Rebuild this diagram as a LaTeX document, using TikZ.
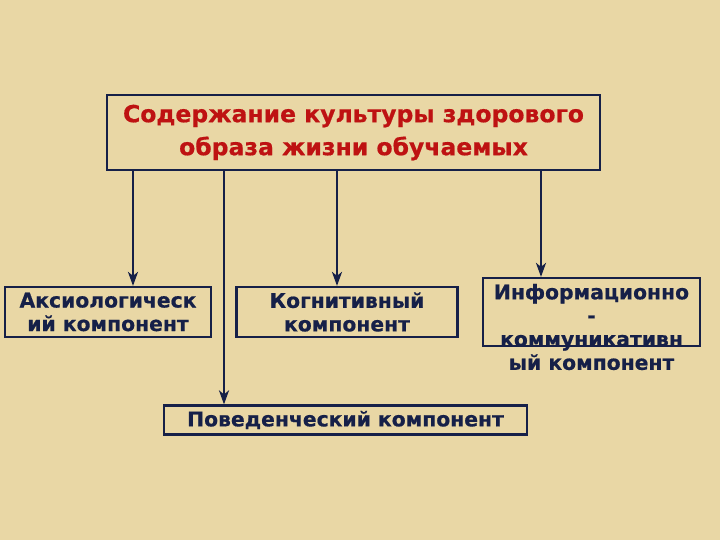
\documentclass[tikz,border=0pt]{standalone}
\usepackage{fontspec}
\setmainfont[BoldFeatures={FakeBold=0.6}]{DejaVu Sans}
\usetikzlibrary{arrows.meta}

\definecolor{paper}{RGB}{233,215,165}
\definecolor{navy}{RGB}{22,32,72}
\definecolor{titlered}{RGB}{190,18,18}

\tikzset{
  compbox/.style={draw=navy, line width=2.2pt, inner sep=0pt},
  comptext/.style={text=navy, font=\bfseries\fontsize{20.3}{23.5}\selectfont, align=center, inner sep=0pt},
  link/.style={draw=navy, line width=2.4pt, -{Stealth[length=14pt,width=10pt,inset=4pt]}}
}

\begin{document}
\begin{tikzpicture}[x=1pt,y=-1pt]
    % фон
    \fill[paper] (0,0) rectangle (720,540);
    \useasboundingbox (0,0) rectangle (720,540);

    % главный блок
    \node[compbox, minimum width=493, minimum height=75,
          text=titlered, align=center,
          font=\bfseries\fontsize{23.5}{33}\selectfont] (title) at (353.5,132.5)
        {Содержание культуры здорового\\образа жизни обучаемых};

    % компоненты
    \node[compbox, comptext, minimum width=206, minimum height=50] (axio) at (108,312)
        {Аксиологическ\\ий компонент};
    \node[compbox, comptext, minimum width=221, minimum height=50] (cogn) at (347,312)
        {Когнитивный\\компонент};
    \node[compbox, minimum width=217, minimum height=68] (info) at (591.5,312) {};
    \node[comptext] (infotext) at (591.5,327)
        {Информационно\\-\\коммуникативн\\ый компонент};
    \node[compbox, comptext, minimum width=363, minimum height=29] (behav) at (345.5,420)
        {Поведенческий компонент};

    % стрелки
    \draw[link] (title.south -| 133,0) -- (axio.north -| 133,0);
    \draw[link] (title.south -| 224,0) -- (behav.north -| 224,0);
    \draw[link] (title.south -| 337,0) -- (cogn.north -| 337,0);
    \draw[link] (title.south -| 541,0) -- (info.north -| 541,0);
\end{tikzpicture}
\end{document}
